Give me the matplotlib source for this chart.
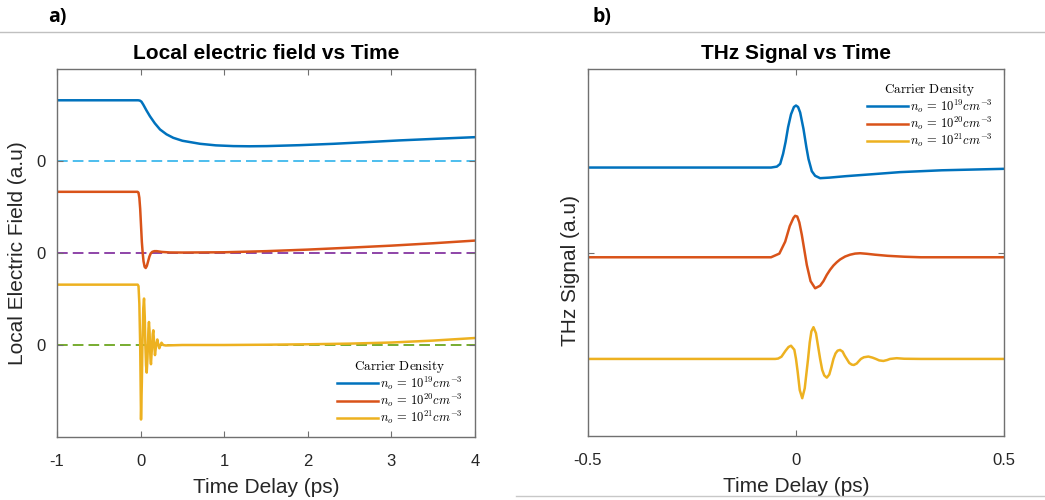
import matplotlib
matplotlib.use("Agg")
import matplotlib.pyplot as plt
from matplotlib.lines import Line2D

plt.rcParams['font.family'] = ['Liberation Sans', 'DejaVu Sans']
plt.rcParams['mathtext.fontset'] = 'cm'
plt.rcParams['axes.unicode_minus'] = False

# ---------------- data: panel a) local electric field ----------------
labels = [r'$n_o\,=\,10^{19}cm^{-3}$', r'$n_o\,=\,10^{20}cm^{-3}$', r'$n_o\,=\,10^{21}cm^{-3}$']
colors = ['#0072BD', '#D95319', '#EDB120']
zero_colors = ['#4DBEEE', '#8E44A8', '#77AC30']

left_offsets = [2.0, 1.0, 0.0]

t_blue_a = [-1, -0.03, -0.01, 0.01, 0.032, 0.07, 0.112, 0.17, 0.232, 0.31, 0.391, 0.5,
            0.711, 0.9, 1.11, 1.3, 1.51, 1.9, 2.31, 2.7, 3.1, 3.55, 4.0]
v_blue_a = [0.66, 0.66, 0.657, 0.645, 0.613, 0.55, 0.486, 0.41, 0.343, 0.29, 0.252, 0.22,
            0.187, 0.17, 0.162, 0.16, 0.162, 0.172, 0.187, 0.205, 0.224, 0.242, 0.259]

t_orange_a = [-1, -0.035, -0.025, -0.015, -0.005, 0.005, 0.015, 0.025, 0.035, 0.048, 0.061,
              0.075, 0.09, 0.105, 0.121, 0.14, 0.165, 0.193, 0.25, 0.35, 0.5, 1.0, 1.5, 2.0,
              2.5, 3.0, 3.5, 4.0]
v_orange_a = [0.665, 0.665, 0.655, 0.6, 0.48, 0.3, 0.12, 0.0, -0.09, -0.15, -0.163,
              -0.14, -0.09, -0.04, -0.005, 0.013, 0.02, 0.02, 0.012, 0.006, 0.005, 0.008, 0.02,
              0.037, 0.058, 0.08, 0.106, 0.135]

t_yellow_a = [-1, -0.035, -0.025, -0.015, -0.005, 0.005, 0.015, 0.022, 0.032, 0.041, 0.05,
              0.057, 0.065, 0.073, 0.082, 0.088, 0.094, 0.1, 0.107, 0.112, 0.118, 0.124,
              0.131, 0.138, 0.145, 0.152, 0.162, 0.172, 0.186, 0.2, 0.212, 0.224, 0.237,
              0.25, 0.27, 0.3, 0.5, 1.0, 1.5, 2.0, 2.5, 3.0, 3.5, 4.0]
v_yellow_a = [0.656, 0.656, 0.64, 0.45, 0.0, -0.81, -0.4, 0.0, 0.4, 0.505, 0.3,
              0.0, -0.22, -0.30, -0.15, 0.0, 0.18, 0.25, 0.15, 0.0, -0.15, -0.209,
              -0.1, 0.0, 0.12, 0.16, 0.02, -0.11, 0.0, 0.06, 0.0, -0.036, 0.0,
              0.025, 0.0, -0.005, 0.0, 0.0, 0.003, 0.008, 0.015, 0.027, 0.048, 0.076]

# ---------------- data: panel b) THz signal ----------------
right_offsets = [0.463, -0.026, -0.580]

t_blue_b = [-0.5, -0.06, -0.046, -0.038, -0.031, -0.025, -0.019, -0.012, -0.005, 0.0, 0.005,
            0.01, 0.018, 0.025, 0.03, 0.038, 0.046, 0.058, 0.08, 0.12, 0.18, 0.25, 0.35, 0.5]
v_blue_b = [0.0, 0.0, 0.005, 0.02, 0.075, 0.14, 0.22, 0.29, 0.33, 0.338, 0.33,
            0.30, 0.21, 0.11, 0.047, -0.02, -0.045, -0.058, -0.055, -0.047, -0.037, -0.025,
            -0.015, -0.007]

t_orange_b = [-0.5, -0.06, -0.04, -0.026, -0.015, -0.006, -0.002, 0.003, 0.008, 0.014, 0.02,
              0.026, 0.035, 0.046, 0.058, 0.066, 0.074, 0.082, 0.09, 0.098, 0.106, 0.118,
              0.13, 0.142, 0.154, 0.17, 0.19, 0.22, 0.26, 0.3, 0.5]
v_orange_b = [0.0, 0.0, 0.02, 0.085, 0.17, 0.215, 0.226, 0.222, 0.19, 0.122, 0.04,
              -0.042, -0.13, -0.169, -0.155, -0.13, -0.096, -0.068, -0.045, -0.027, -0.012,
              0.004, 0.014, 0.02, 0.022, 0.019, 0.014, 0.008, 0.003, 0.0, 0.0]

t_yellow_b = [-0.5, -0.05, -0.043, -0.035, -0.025, -0.018, -0.012, -0.004, 0.0, 0.004, 0.009,
              0.015, 0.021, 0.026, 0.029, 0.033, 0.037, 0.042, 0.048, 0.053, 0.058, 0.063,
              0.068, 0.074, 0.08, 0.085, 0.09, 0.095, 0.1, 0.106, 0.112, 0.117, 0.122,
              0.128, 0.134, 0.139, 0.146, 0.151, 0.156, 0.163, 0.174, 0.184, 0.192, 0.2,
              0.21, 0.219, 0.226, 0.242, 0.26, 0.3, 0.5]
v_yellow_b = [0.0, 0.0, 0.002, 0.012, 0.045, 0.065, 0.072, 0.05, 0.0, -0.07, -0.17,
              -0.214, -0.16, -0.06, 0.0, 0.09, 0.15, 0.173, 0.14, 0.07, 0.0, -0.06,
              -0.09, -0.102, -0.085, -0.045, 0.0, 0.03, 0.045, 0.049, 0.04, 0.018, 0.0,
              -0.022, -0.031, -0.033, -0.025, -0.012, 0.0, 0.009, 0.013, 0.007, 0.0, -0.008,
              -0.011, -0.006, 0.0, 0.004, 0.001, 0.0, 0.0]

left_xticks = [-1, 0, 1, 2, 3, 4]
left_xticklabels = ['-1', '0', '1', '2', '3', '4']
right_xticks = [-0.5, 0, 0.5]
right_xticklabels = ['-0.5', '0', '0.5']

# ---------------- figure ----------------
W, H = 1045, 500
fig = plt.figure(figsize=(W / 100, H / 100), dpi=100)

axA = fig.add_axes([57 / W, (H - 437) / H, (475 - 57) / W, (437 - 69) / H])
axB = fig.add_axes([588 / W, (H - 436) / H, (1004 - 588) / W, (436 - 69) / H])

frame_col = '#707070'
text_col = '#262626'
lw = 1.8

# panel a
series_a = [(t_blue_a, v_blue_a), (t_orange_a, v_orange_a), (t_yellow_a, v_yellow_a)]
for (t, v), off, c, zc, lab in zip(series_a, left_offsets, colors, zero_colors, labels):
    axA.axhline(off, color=zc, lw=1.4, ls=(0, (5.5, 2.6)), zorder=1)
    axA.plot(t, [off + x for x in v], color=c, lw=lw, label=lab, zorder=2)

axA.set_xlim(-1, 4)
axA.set_ylim(-1, 3)
axA.set_xticks(left_xticks)
axA.set_xticklabels(left_xticklabels)
axA.set_yticks(left_offsets)
axA.set_yticklabels(['0', '0', '0'])
axA.set_title('Local electric field vs Time', fontsize=15, fontweight='bold', pad=7)
axA.set_xlabel('Time Delay (ps)', fontsize=15, color=text_col, labelpad=7)
axA.set_ylabel('Local Electric Field (a.u)', fontsize=15, color=text_col)
axA.yaxis.set_label_coords(-0.072, 0.5)

# panel b
series_b = [(t_blue_b, v_blue_b), (t_orange_b, v_orange_b), (t_yellow_b, v_yellow_b)]
for (t, v), off, c, lab in zip(series_b, right_offsets, colors, labels):
    axB.plot(t, [off + x for x in v], color=c, lw=lw, label=lab)

axB.set_xlim(-0.5, 0.5)
axB.set_ylim(-1, 1)
axB.set_xticks(right_xticks)
axB.set_xticklabels(right_xticklabels)
axB.set_yticks([0])
axB.set_yticklabels([''])
axB.set_title('THz Signal vs Time', fontsize=15, fontweight='bold', pad=7)
axB.set_xlabel('Time Delay (ps)', fontsize=15, color=text_col, labelpad=7)
axB.set_ylabel('THz Signal (a.u)', fontsize=15, color=text_col)
axB.yaxis.set_label_coords(-0.02, 0.45)

for ax in (axA, axB):
    for s in ax.spines.values():
        s.set_color(frame_col)
        s.set_linewidth(1.0)
    ax.tick_params(direction='in', top=True, right=True, length=4, width=0.8,
                   color=frame_col, labelsize=12, labelcolor=text_col)
    ax.tick_params(axis='x', pad=12)
    ax.tick_params(axis='y', pad=8)

leg_kw = dict(frameon=False, fontsize=9, title=r'$\mathrm{Carrier\ Density}$',
              title_fontsize=9.5, handlelength=3.3, handletextpad=0.15,
              labelspacing=0.0, borderpad=0.2)
axA.legend(loc='upper left', bbox_to_anchor=((328 - 57) / 418, (437 - 350) / 368), **leg_kw)
axB.legend(loc='upper left', bbox_to_anchor=((858 - 588) / 416, (436 - 73) / 367), **leg_kw)

# panel labels and separator lines
fig.text(48 / W, 1 - 17 / H, 'a)', fontsize=14, fontweight='bold', family=['Open Sans', 'DejaVu Sans'],
         va='center', ha='left')
fig.text(592 / W, 1 - 17 / H, 'b)', fontsize=14, fontweight='bold', family=['Open Sans', 'DejaVu Sans'],
         va='center', ha='left')
fig.add_artist(Line2D([0, 1], [1 - 32 / H, 1 - 32 / H], transform=fig.transFigure,
                      color='#c0c0c0', lw=1.0))
fig.add_artist(Line2D([516 / W, 1], [1 - 496 / H, 1 - 496 / H], transform=fig.transFigure,
                      color='#c8c8c8', lw=1.0))

fig.savefig('out.png', dpi=100)
